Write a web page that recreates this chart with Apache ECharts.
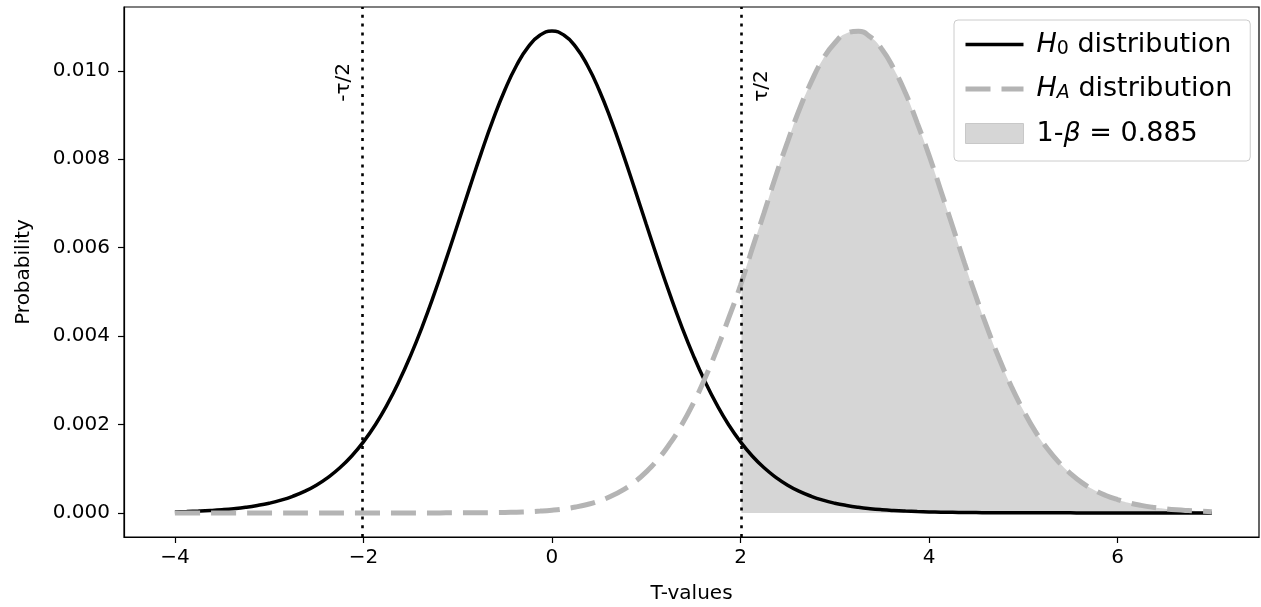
<!DOCTYPE html>
<html><head><meta charset="utf-8">
<script src="https://cdn.jsdelivr.net/npm/echarts@6/dist/echarts.min.js"></script>
<style>html,body{margin:0;padding:0;background:#fff}#c{width:1261px;height:607px}</style>
</head><body><div id="c"></div>
<script>
// ---- data ----
const tValues = [
  -4,-3.875,-3.75,-3.625,-3.5,-3.375,-3.25,-3.125,-3,-2.875,-2.75,-2.625,-2.5,-2.375,-2.25,-2.125,
  -2,-1.875,-1.75,-1.625,-1.5,-1.375,-1.25,-1.125,-1,-0.875,-0.75,-0.625,-0.5,-0.375,-0.25,-0.125,
  0,0.125,0.25,0.375,0.5,0.625,0.75,0.875,1,1.125,1.25,1.375,1.5,1.625,1.75,1.875,
  2,2.125,2.25,2.375,2.5,2.625,2.75,2.875,3,3.125,3.25,3.375,3.5,3.625,3.75,3.875,
  4,4.125,4.25,4.375,4.5,4.625,4.75,4.875,5,5.125,5.25,5.375,5.5,5.625,5.75,5.875,
  6,6.125,6.25,6.375,6.5,6.625,6.75,6.875,7];
const h0Values = [
  0.0000228,0.0000304,0.0000407,0.0000543,0.0000722,0.0000959,0.000127,0.000168,0.000220,0.000288,0.000376,0.000487,0.000627,0.000805,0.00102,0.001286,
  0.001607,0.00199,0.002442,0.002965,0.003559,0.004222,0.004948,0.005723,0.00653,0.007347,0.008146,0.008896,0.009567,0.010127,0.010549,0.010811,
  0.0109,0.010811,0.010549,0.010127,0.009567,0.008896,0.008146,0.007347,0.00653,0.005723,0.004948,0.004222,0.003559,0.002965,0.002442,0.00199,
  0.001607,0.001286,0.00102,0.000805,0.000627,0.000487,0.000376,0.000288,0.000220,0.000168,0.000127,0.0000959,0.0000722,0.0000543,0.0000407,0.0000304,
  0.0000228,0.0000171,0.0000127,0.0000095,0.0000071,0.0000053,0.000004,0.000003,0.0000022,0.0000017,0.0000013,0.000001,0.0000008,0.0000006,0.0000005,0.0000004,
  0.0000003,0.0000002,0.0000002,0.0000001,0.0000001,0.0000001,0,0,0];
const haValues = [
  0,0,0,0,0,0,0,0,0,0,0,0,0,0,0,0,
  0,0,0,0,0,0,0.0000005,0.000001,0.0000015,0.0000025,0.0000041,0.0000067,0.0000108,0.000017,0.0000265,0.0000405,
  0.0000611,0.0000907,0.000132,0.000191,0.00027,0.000376,0.000516,0.000697,0.000928,0.001214,0.001566,0.001987,0.002483,0.003055,0.0037,0.004412,
  0.00515,0.005985,0.00679,0.007628,0.0084,0.009132,0.00975,0.01027,0.01063,0.010851,0.010895,0.01077,0.01049,0.01005,0.0095,0.00882,
  0.00809,0.00729,0.00648,0.00566,0.00488,0.00414,0.00346,0.00285,0.00232,0.00185,0.00147,0.00115,0.00089,0.00068,0.00052,0.000395,
  0.0003,0.000226,0.00017,0.000127,0.000095,0.00007,0.000052,0.000038,0.000028];
const critValue = 2.01;
const haAtCrit = 0.00521;
const tauLabelY = 0.0093;
const critLabels = ['-τ/2', 'τ/2'];
const xTicks = [-4, -2, 0, 2, 4, 6];
const xTickLabels = ['\u22124', '\u22122', '0', '2', '4', '6'];
const yTicks = [0, 0.002, 0.004, 0.006, 0.008, 0.010];
const yTickLabels = ['0.000', '0.002', '0.004', '0.006', '0.008', '0.010'];
const seriesNames = ['H0 distribution', 'HA distribution', '1-β = 0.885'];
const legendRich = ['{it|H}{sub|0}{t| distribution}', '{it|H}{subi|A}{t| distribution}', '{t|1-}{it|β}{t| = 0.885}'];
const xName = 'T-values';
const yName = 'Probability';

// ---- build ----
const FONT = 'DejaVu Sans';
const h0Data = tValues.map((t, i) => [t, h0Values[i]]);
const haData = tValues.map((t, i) => [t, haValues[i]]);
const powerData = [[critValue, haAtCrit]].concat(haData.filter(p => p[0] > critValue));

function tickLabel(ticks, labels) {
  return v => { const i = ticks.findIndex(t => Math.abs(t - v) < 1e-9); return i >= 0 ? labels[i] : ''; };
}

const chart = echarts.init(document.getElementById('c'), null, {renderer: 'canvas'});
const option = {
  animation: false,
  backgroundColor: '#fff',
  grid: {left: 124, right: 2, top: 7, bottom: 70, containLabel: false, outerBoundsMode: 'none',
         show: true, borderColor: '#000', borderWidth: 1.2, backgroundColor: 'transparent'},
  xAxis: {
    type: 'value', min: -4.54, max: 7.5,
    name: xName, nameLocation: 'middle', nameGap: 47,
    nameTextStyle: {fontFamily: FONT, fontSize: 20, color: '#000'},
    axisLine: {show: true, onZero: false, lineStyle: {color: '#000', width: 1.2}},
    axisTick: {show: true, customValues: xTicks, length: 6, lineStyle: {color: '#000', width: 1.2}},
    axisLabel: {customValues: xTicks, formatter: tickLabel(xTicks, xTickLabels), fontFamily: FONT, fontSize: 20, color: '#000', margin: 11},
    splitLine: {show: false}
  },
  yAxis: {
    type: 'value', min: -0.000545, max: 0.011445,
    name: yName, nameLocation: 'middle', nameGap: 90, nameRotate: 90,
    nameTextStyle: {fontFamily: FONT, fontSize: 20, color: '#000'},
    axisLine: {show: true, onZero: false, lineStyle: {color: '#000', width: 1.2}},
    axisTick: {show: true, customValues: yTicks, length: 6, lineStyle: {color: '#000', width: 1.2}},
    axisLabel: {customValues: yTicks, formatter: tickLabel(yTicks, yTickLabels), fontFamily: FONT, fontSize: 20, color: '#000', margin: 14},
    splitLine: {show: false}
  },
  legend: {
    orient: 'vertical', left: 954, top: 20,
    padding: [11, 18, 14, 9],
    itemWidth: 58, itemHeight: 20, itemGap: 17,
    backgroundColor: 'rgba(255,255,255,0.8)', borderColor: '#cccccc', borderWidth: 1, borderRadius: 4,
    data: [
      {name: seriesNames[0], itemStyle: {opacity: 0, borderWidth: 0}, lineStyle: {color: '#000', width: 3.5, type: 'solid'}},
      {name: seriesNames[1], itemStyle: {opacity: 0, borderWidth: 0}, lineStyle: {color: '#b4b4b4', width: 5, type: [25, 11]}},
      {name: seriesNames[2], icon: 'rect', itemStyle: {color: '#d6d6d6', borderColor: '#c8c8c8', borderWidth: 1}}
    ],
    formatter: name => legendRich[seriesNames.indexOf(name)],
    textStyle: {
      fontFamily: FONT, fontSize: 27, color: '#000', padding: [0, 0, 0, 8],
      rich: {
        t: {fontFamily: FONT, fontSize: 27, color: '#000', lineHeight: 28},
        it: {fontFamily: FONT, fontSize: 27, fontStyle: 'italic', color: '#000', lineHeight: 28},
        sub: {fontFamily: FONT, fontSize: 19, color: '#000', lineHeight: 12, verticalAlign: 'bottom'},
        subi: {fontFamily: FONT, fontSize: 19, fontStyle: 'italic', color: '#000', lineHeight: 12, verticalAlign: 'bottom'}
      }
    }
  },
  series: [
    {
      name: seriesNames[2], type: 'line', data: powerData, z: 1,
      smooth: true, symbol: 'none',
      color: '#d6d6d6',
      lineStyle: {width: 0, color: '#d6d6d6'},
      areaStyle: {color: '#d6d6d6', opacity: 1}
    },
    {
      name: seriesNames[0], type: 'line', data: h0Data, z: 3,
      smooth: true, symbol: 'none',
      color: '#000',
      lineStyle: {color: '#000', width: 3.5}
    },
    {
      name: seriesNames[1], type: 'line', data: haData, z: 4,
      smooth: true, symbol: 'none',
      color: '#b4b4b4',
      lineStyle: {color: '#b4b4b4', width: 5, type: [25, 11]},
      markLine: {
        silent: true, symbol: 'none', z: 5,
        label: {show: false},
        lineStyle: {color: '#000', width: 2.6, type: [3, 5.8]},
        emphasis: {disabled: true},
        data: [{xAxis: -critValue}, {xAxis: critValue}]
      }
    }
  ]
};
chart.setOption(option);

const pL = chart.convertToPixel({xAxisIndex: 0, yAxisIndex: 0}, [-critValue, tauLabelY]);
const pR = chart.convertToPixel({xAxisIndex: 0, yAxisIndex: 0}, [critValue, tauLabelY]);
chart.setOption({
  graphic: [
    {type: 'text', x: pL[0] - 9, y: pL[1], rotation: Math.PI / 2, z: 10,
     style: {text: critLabels[0], fontFamily: FONT, fontSize: 20, fill: '#000', align: 'left', verticalAlign: 'bottom', textAlign: 'left', textVerticalAlign: 'bottom'}},
    {type: 'text', x: pR[0] + 10, y: pR[1], rotation: Math.PI / 2, z: 10,
     style: {text: critLabels[1], fontFamily: FONT, fontSize: 20, fill: '#000', align: 'left', verticalAlign: 'top', textAlign: 'left', textVerticalAlign: 'top'}}
  ]
});
</script>
</body></html>
